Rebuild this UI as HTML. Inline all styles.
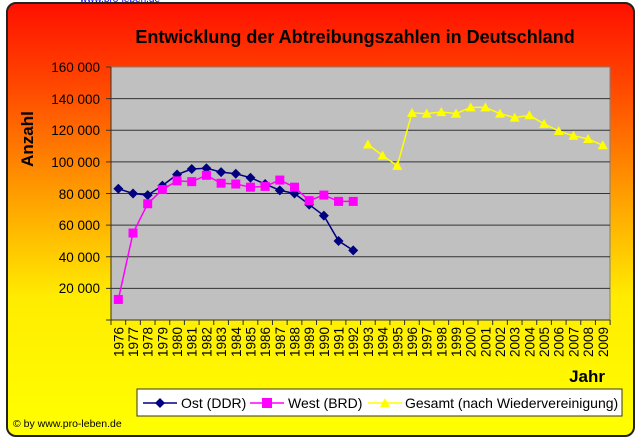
<!DOCTYPE html>
<html><head><meta charset="utf-8"><style>
html,body{margin:0;padding:0;background:#fff;}
svg{display:block;font-family:"Liberation Sans",Arial,sans-serif;}
</style></head><body>
<svg id="s" width="640" height="439" viewBox="0 0 640 439">
<defs>
<linearGradient id="g" x1="0" y1="0" x2="0" y2="1">
<stop offset="0" stop-color="#ff1000"/>
<stop offset="0.2" stop-color="#ff4a00"/>
<stop offset="0.45" stop-color="#ffa000"/>
<stop offset="0.68" stop-color="#ffec00"/>
<stop offset="1" stop-color="#ffff00"/>
</linearGradient>
</defs>
<text x="80" y="2" font-size="10" fill="#0000ff">www.pro-leben.de</text>
<rect x="7" y="3" width="627" height="433" rx="9" fill="url(#g)" stroke="#222" stroke-width="2"/>
<text x="355" y="43" font-size="18" font-weight="bold" text-anchor="middle" fill="#000">Entwicklung der Abtreibungszahlen in Deutschland</text>
<rect x="111" y="67" width="499" height="253" fill="#c0c0c0" stroke="#808080" stroke-width="1"/>
<g id="grid" stroke="#333" stroke-width="1"></g>
<g font-size="13.5" text-anchor="end" fill="#000">
<text x="100" y="72">160 000</text><text x="100" y="104">140 000</text><text x="100" y="135">120 000</text><text x="100" y="167">100 000</text><text x="100" y="199">80 000</text><text x="100" y="230">60 000</text><text x="100" y="262">40 000</text><text x="100" y="293">20 000</text>
</g>
<text transform="translate(33,139) rotate(-90)" font-size="17" font-weight="bold" text-anchor="middle">Anzahl</text>
<g id="years" font-size="13.5" text-anchor="end"></g>
<text x="605" y="382" font-size="17" font-weight="bold" text-anchor="end">Jahr</text>
<g id="series"></g>
<rect x="137" y="389" width="485" height="27" fill="#fff" stroke="#333" stroke-width="1"/>
<line x1="143" y1="403" x2="177" y2="403" stroke="#000080" stroke-width="1.5"/>
<path d="M160 398 L165 403 L160 408 L155 403Z" fill="#000080"/>
<text x="181" y="408" font-size="14">Ost (DDR)</text>
<line x1="250" y1="403" x2="284" y2="403" stroke="#ff00ff" stroke-width="1.5"/>
<rect x="262" y="398" width="10" height="10" fill="#ff00ff"/>
<text x="288" y="408" font-size="14">West (BRD)</text>
<line x1="368" y1="403" x2="402" y2="403" stroke="#ffff00" stroke-width="1.5"/>
<path d="M385 398 L390 407 L380 407Z" fill="#ffff00"/>
<text x="405" y="408" font-size="14">Gesamt (nach Wiedervereinigung)</text>
<text x="13" y="427" font-size="10.5">© by www.pro-leben.de</text>
</svg>
<script>
const NS="http://www.w3.org/2000/svg";
function el(p,t,a){const e=document.createElementNS(NS,t);for(const k in a)e.setAttribute(k,a[k]);p.appendChild(e);return e;}
const X=i=>111+14.68*(i+0.5), Y=v=>320-v*253/160000;
const grid=document.getElementById('grid');
for(let v=20000;v<=140000;v+=20000)el(grid,'line',{x1:111,x2:610,y1:Y(v),y2:Y(v)});
for(let v=0;v<=160000;v+=20000)el(grid,'line',{x1:106,x2:111,y1:Y(v),y2:Y(v)});
el(grid,'line',{x1:111,x2:111,y1:67,y2:320});
el(grid,'line',{x1:111,x2:610,y1:320,y2:320});
for(let i=0;i<=34;i++)el(grid,'line',{x1:111+14.68*i,x2:111+14.68*i,y1:320,y2:325});
</script>
<script>
const yrs=document.getElementById('years');
for(let i=0;i<34;i++){const t=el(yrs,'text',{transform:`translate(${X(i)+5},327) rotate(-90)`});t.textContent=1976+i;}
const s=document.getElementById('series');
const ost=[83000,80000,79000,85000,92000,95500,96000,93500,92500,90000,86000,82000,80000,73000,66000,50000,44000];
const west=[13000,55000,73500,82500,88000,87500,91500,86500,86000,84000,84500,88500,84000,75500,79000,75000,75000];
const ges=[111000,104000,97500,131000,130500,131500,130500,134500,134500,130500,128000,129500,124000,119500,116500,114500,110500];
function line(d,off,c){el(s,'polyline',{points:d.map((v,i)=>X(i+off)+','+Y(v)).join(' '),fill:'none',stroke:c,'stroke-width':1.5});}
line(ges,17,'#ffff00');line(ost,0,'#000080');line(west,0,'#ff00ff');
ges.forEach((v,i)=>{const x=X(i+17),y=Y(v);el(s,'path',{d:`M${x} ${y-5}L${x+5} ${y+4}L${x-5} ${y+4}Z`,fill:'#ffff00'});});
ost.forEach((v,i)=>{const x=X(i),y=Y(v);el(s,'path',{d:`M${x} ${y-5}L${x+5} ${y}L${x} ${y+5}L${x-5} ${y}Z`,fill:'#000080'});});
west.forEach((v,i)=>{const x=X(i),y=Y(v);el(s,'rect',{x:x-4.5,y:y-4.5,width:9,height:9,fill:'#ff00ff'});});
</script>
</body></html>
